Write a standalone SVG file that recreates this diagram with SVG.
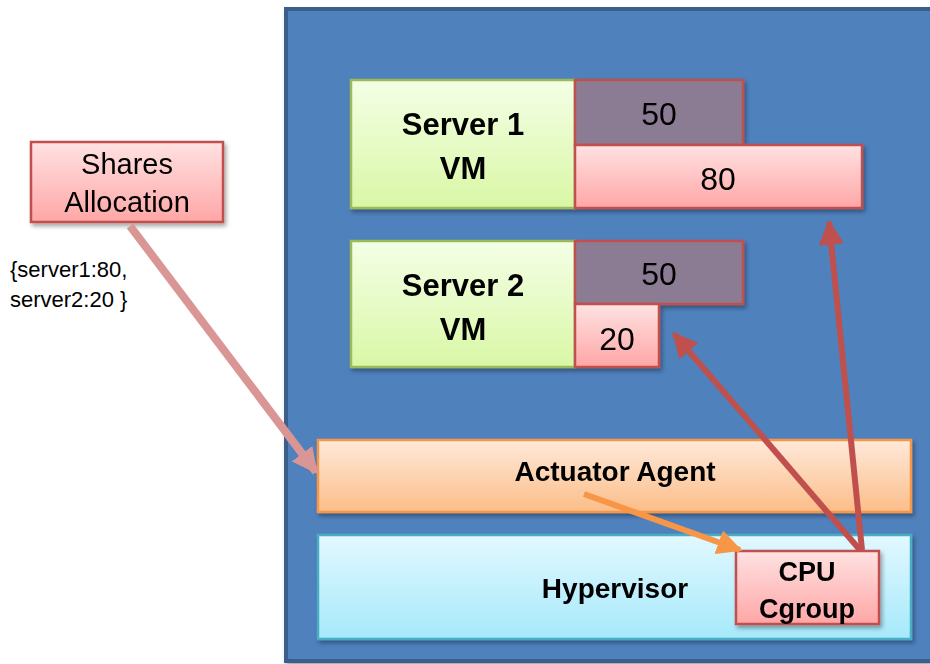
<svg xmlns="http://www.w3.org/2000/svg" width="930" height="664" viewBox="0 0 930 664">
  <defs>
    <linearGradient id="gGreen" x1="0" y1="0" x2="0" y2="1">
      <stop offset="0" stop-color="#f4ffe6"/>
      <stop offset="1" stop-color="#d9f7a6"/>
    </linearGradient>
    <linearGradient id="gPink" x1="0" y1="0" x2="0" y2="1">
      <stop offset="0" stop-color="#ffe2e2"/>
      <stop offset="1" stop-color="#ffa6a6"/>
    </linearGradient>
    <linearGradient id="gOrange" x1="0" y1="0" x2="0" y2="1">
      <stop offset="0" stop-color="#ffe9da"/>
      <stop offset="1" stop-color="#fbbd88"/>
    </linearGradient>
    <linearGradient id="gCyan" x1="0" y1="0" x2="0" y2="1">
      <stop offset="0" stop-color="#e2f8ff"/>
      <stop offset="1" stop-color="#a6e9fb"/>
    </linearGradient>
    <filter id="shadow" x="-10%" y="-10%" width="130%" height="140%">
      <feDropShadow dx="2" dy="3" stdDeviation="2" flood-color="#000" flood-opacity="0.35"/>
    </filter>
    <marker id="arrRed" viewBox="0 0 10 10" refX="9" refY="5" markerWidth="4.2" markerHeight="4.2" orient="auto" markerUnits="strokeWidth">
      <path d="M0,0 L10,5 L0,10 z" fill="#c0504d"/>
    </marker>
    <marker id="arrOrange" viewBox="0 0 10 10" refX="9" refY="5" markerWidth="4.2" markerHeight="4.2" orient="auto" markerUnits="strokeWidth">
      <path d="M0,0 L10,5 L0,10 z" fill="#f79646"/>
    </marker>
    <marker id="arrPink" viewBox="0 0 10 10" refX="9" refY="5" markerWidth="3.2" markerHeight="3.2" orient="auto" markerUnits="strokeWidth">
      <path d="M0,0 L10,5 L0,10 z" fill="#d99694"/>
    </marker>
  </defs>
  <style>
    .t { font-family: "Liberation Sans", Arial, sans-serif; fill: #000; text-anchor: middle; }
    .b { font-weight: bold; }
    .srv { font-size: 31px; }
    .n { font-size: 32px; }
    .lay { font-size: 28px; }
    .cg { font-size: 27px; }
    .vm { fill: url(#gGreen); stroke: #9bbb59; stroke-width: 2.5; }
    .used { fill: #8b7c94; stroke: #c0504d; stroke-width: 2.5; }
    .share { fill: url(#gPink); stroke: #c0504d; stroke-width: 2.5; }
  </style>

  <rect width="930" height="664" fill="#ffffff"/>

  <!-- host panel -->
  <g id="host">
    <rect x="286" y="9" width="660" height="652" fill="#4f81bd" stroke="#3b5f8c" stroke-width="4" filter="url(#shadow)"/>
  </g>

  <!-- input node -->
  <g id="shares-allocation" filter="url(#shadow)">
    <rect x="31" y="142" width="192" height="80" class="share"/>
    <text class="t" x="127" y="174" font-size="29">Shares</text>
    <text class="t" x="127" y="212" font-size="29">Allocation</text>
  </g>
  <g id="shares-value">
    <text x="10" y="277" font-family="Liberation Sans, Arial, sans-serif" font-size="22">{server1:80,</text>
    <text x="10" y="307" font-family="Liberation Sans, Arial, sans-serif" font-size="22">server2:20 }</text>
  </g>

  <!-- server 1 -->
  <g id="server1" filter="url(#shadow)">
    <rect x="351" y="80" width="224" height="128" class="vm"/>
    <rect x="575" y="80" width="168" height="65" class="used"/>
    <rect x="575" y="145" width="287" height="63" class="share"/>
    <text class="t b srv" x="463" y="135">Server 1</text>
    <text class="t b srv" x="463" y="179">VM</text>
    <text class="t n" x="659" y="125">50</text>
    <text class="t n" x="718" y="190">80</text>
  </g>

  <!-- server 2 -->
  <g id="server2" filter="url(#shadow)">
    <rect x="351" y="241" width="224" height="126" class="vm"/>
    <rect x="575" y="241" width="168" height="63" class="used"/>
    <rect x="575" y="304" width="84" height="63" class="share"/>
    <text class="t b srv" x="463" y="296">Server 2</text>
    <text class="t b srv" x="463" y="340">VM</text>
    <text class="t n" x="659" y="285">50</text>
    <text class="t n" x="617" y="350">20</text>
  </g>

  <!-- actuator agent -->
  <g id="actuator" filter="url(#shadow)">
    <rect x="318" y="440" width="593" height="72" fill="url(#gOrange)" stroke="#f79646" stroke-width="2.5"/>
    <text class="t b lay" x="615" y="481">Actuator Agent</text>
  </g>

  <!-- hypervisor -->
  <g id="hypervisor" filter="url(#shadow)">
    <rect x="318" y="535" width="593" height="104" fill="url(#gCyan)" stroke="#4bacc6" stroke-width="2.5"/>
    <text class="t b lay" x="615" y="598">Hypervisor</text>
  </g>

  <!-- cpu cgroup -->
  <g id="cgroup" filter="url(#shadow)">
    <rect x="736" y="551" width="143" height="73" class="share"/>
    <text class="t b cg" x="807" y="581">CPU</text>
    <text class="t b cg" x="807" y="618">Cgroup</text>
  </g>

  <!-- connectors -->
  <g id="connectors" fill="none" stroke-linecap="butt">
    <line x1="130" y1="226" x2="316" y2="472" stroke="#d99694" stroke-width="8" marker-end="url(#arrPink)"/>
    <line x1="584" y1="494" x2="740" y2="550" stroke="#f79646" stroke-width="6" marker-end="url(#arrOrange)"/>
    <line x1="860" y1="550" x2="674" y2="334" stroke="#c0504d" stroke-width="6" marker-end="url(#arrRed)"/>
    <line x1="862" y1="550" x2="829" y2="222" stroke="#c0504d" stroke-width="6" marker-end="url(#arrRed)"/>
  </g>
</svg>
